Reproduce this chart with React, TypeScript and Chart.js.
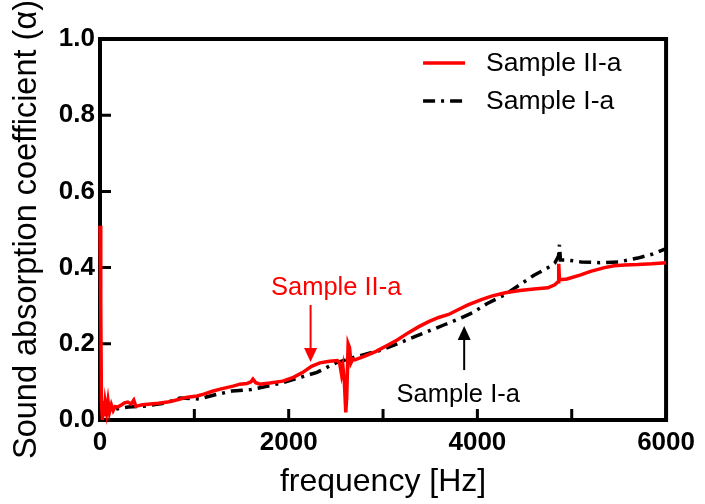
import React, { useEffect, useRef } from "react";
import { Chart, registerables } from "chart.js";
Chart.register(...registerables);

// Sample II-a (red)
const freqII = [0, 8, 15, 25, 35, 45, 55, 70, 85, 100, 120, 140, 160, 190, 230, 260, 295, 330, 358, 380, 400, 450, 537, 620, 716, 800, 926, 1030, 1100, 1200, 1274, 1410, 1484, 1558, 1600, 1621, 1650, 1695, 1800, 1937, 2050, 2150, 2242, 2330, 2432, 2516, 2540, 2560, 2575, 2590, 2605, 2615, 2630, 2645, 2660, 2680, 2700, 2800, 2926, 3063, 3150, 3274, 3380, 3484, 3589, 3695, 3800, 3900, 4042, 4150, 4295, 4450, 4600, 4747, 4820, 4855, 4862, 4870, 4950, 5095, 5200, 5347, 5450, 5558, 5700, 5850, 6000];
const absII = [0.51, 0.3, 0.05, 0.0, 0.05, 0.01, 0.045, 0.02, 0.05, 0.02, 0.04, 0.025, 0.035, 0.034, 0.04, 0.045, 0.047, 0.042, 0.052, 0.036, 0.037, 0.04, 0.042, 0.044, 0.047, 0.052, 0.06, 0.063, 0.068, 0.076, 0.081, 0.089, 0.094, 0.096, 0.1, 0.107, 0.098, 0.094, 0.097, 0.102, 0.112, 0.125, 0.141, 0.15, 0.154, 0.156, 0.15, 0.12, 0.14, 0.1, 0.02, 0.06, 0.2, 0.19, 0.15, 0.16, 0.158, 0.167, 0.18, 0.198, 0.21, 0.23, 0.245, 0.258, 0.269, 0.277, 0.29, 0.302, 0.316, 0.325, 0.334, 0.34, 0.344, 0.347, 0.355, 0.363, 0.41, 0.368, 0.37, 0.381, 0.39, 0.4, 0.405, 0.407, 0.408, 0.41, 0.413];

// Sample I-a (black dash-dot)
const freqI = [0, 50, 100, 200, 300, 500, 700, 850, 1050, 1200, 1400, 1600, 1800, 1950, 2100, 2300, 2500, 2700, 3000, 3200, 3350, 3500, 3650, 3800, 3950, 4100, 4300, 4450, 4600, 4750, 4820, 4860, 4870, 4880, 4950, 5100, 5300, 5500, 5700, 5850, 6000];
const absI = [0.01, 0.015, 0.025, 0.03, 0.034, 0.037, 0.045, 0.058, 0.055, 0.065, 0.076, 0.08, 0.09, 0.099, 0.11, 0.125, 0.15, 0.165, 0.185, 0.205, 0.22, 0.235, 0.25, 0.265, 0.282, 0.305, 0.33, 0.355, 0.38, 0.4, 0.412, 0.43, 0.46, 0.42, 0.42, 0.415, 0.413, 0.415, 0.425, 0.435, 0.45];

const seriesLabels = ["Sample II-a", "Sample I-a"];
const seriesColors = ["#ff0000", "#000000"];
const xTickLabels = ["0", "", "2000", "", "4000", "", "6000"];
const yTickLabels = ["0.0", "0.2", "0.4", "0.6", "0.8", "1.0"];
const xTitle = "frequency [Hz]";
const yTitle = "Sound absorption coefficient (α)";

// annotations: text position and arrow (data units)
const annotII = { text: "Sample II-a", tx: 2503, ty: 0.328, ax: 2232, from: 0.302, to: 0.152 };
const annotI = { text: "Sample I-a", tx: 3797, ty: 0.047, ax: 3860, from: 0.131, to: 0.247 };

const FONT = "'Liberation Sans', Arial, sans-serif";

const framePlugin = {
  id: "frame",
  beforeDatasetsDraw(chart: any) {
    const { ctx, chartArea: a, scales } = chart;
    ctx.save();
    ctx.strokeStyle = "#000";
    ctx.lineWidth = 4;
    ctx.strokeRect(a.left, a.top, a.right - a.left, a.bottom - a.top);
    ctx.lineWidth = 3;
    ctx.beginPath();
    scales.x.ticks.forEach((t: any) => {
      const px = scales.x.getPixelForValue(t.value);
      ctx.moveTo(px, a.bottom);
      ctx.lineTo(px, a.bottom - 11);
    });
    scales.y.ticks.forEach((t: any) => {
      const py = scales.y.getPixelForValue(t.value);
      ctx.moveTo(a.left, py);
      ctx.lineTo(a.left + 11, py);
    });
    ctx.stroke();
    ctx.restore();
  },
  afterDraw(chart: any) {
    const { ctx, chartArea: a, scales } = chart;
    ctx.save();
    // legend
    chart.data.datasets.forEach((ds: any, i: number) => {
      const y = a.top + 24 + i * 38;
      ctx.strokeStyle = ds.borderColor;
      ctx.lineWidth = ds.borderWidth;
      ctx.setLineDash(ds.borderDash || []);
      ctx.beginPath();
      ctx.moveTo(a.right - 243, y);
      ctx.lineTo(a.right - 201, y);
      ctx.stroke();
      ctx.setLineDash([]);
      ctx.fillStyle = "#000";
      ctx.font = `26.5px ${FONT}`;
      ctx.textAlign = "left";
      ctx.textBaseline = "middle";
      ctx.fillText(ds.label, a.right - 180, y + 1);
    });
    // annotations
    const drawAnn = (an: any, color: string) => {
      const tx = scales.x.getPixelForValue(an.tx);
      const ty = scales.y.getPixelForValue(an.ty);
      ctx.fillStyle = color;
      ctx.strokeStyle = color;
      ctx.font = `25.5px ${FONT}`;
      ctx.textAlign = "center";
      ctx.textBaseline = "alphabetic";
      ctx.fillText(an.text, tx, ty);
      const ax = scales.x.getPixelForValue(an.ax);
      const y0 = scales.y.getPixelForValue(an.from);
      const y1 = scales.y.getPixelForValue(an.to);
      const dir = y1 > y0 ? 1 : -1;
      const head = 14;
      ctx.lineWidth = 2;
      ctx.beginPath();
      ctx.moveTo(ax, y0);
      ctx.lineTo(ax, y1 - dir * head);
      ctx.stroke();
      ctx.beginPath();
      ctx.moveTo(ax, y1);
      ctx.lineTo(ax - 6.5, y1 - dir * head);
      ctx.lineTo(ax + 6.5, y1 - dir * head);
      ctx.closePath();
      ctx.fill();
    };
    drawAnn(annotII, seriesColors[0]);
    drawAnn(annotI, seriesColors[1]);
    ctx.restore();
  },
};

export default function App() {
  const ref = useRef<HTMLCanvasElement>(null);
  useEffect(() => {
    if (!ref.current) return;
    const chart = new Chart(ref.current, {
      type: "line",
      data: {
        datasets: [
          {
            label: seriesLabels[0],
            data: freqII.map((f, i) => ({ x: f, y: absII[i] })),
            borderColor: seriesColors[0],
            borderWidth: 3.5,
            pointRadius: 0,
            tension: 0,
            clip: 5,
          },
          {
            label: seriesLabels[1],
            data: freqI.map((f, i) => ({ x: f, y: absI[i] })),
            borderColor: seriesColors[1],
            borderWidth: 3.5,
            borderDash: [12, 6, 3, 6],
            pointRadius: 0,
            tension: 0,
            clip: 5,
          },
        ],
      },
      options: {
        animation: false,
        responsive: false,
        devicePixelRatio: 1,
        layout: { padding: { top: 39, right: 34.5, left: 0, bottom: 0 } },
        plugins: { legend: { display: false }, tooltip: { enabled: false } },
        scales: {
          x: {
            type: "linear",
            min: 0,
            max: 6000,
            grid: { display: false, drawTicks: false },
            border: { display: false },
            afterFit: (s: any) => { s.height = 84; },
            ticks: {
              stepSize: 1000,
              padding: 10,
              color: "#000",
              font: { family: FONT, size: 26, weight: "bold", lineHeight: 1 },
              callback: (_v: any, i: number) => xTickLabels[i],
              maxRotation: 0,
              autoSkip: false,
            },
            title: {
              display: true,
              text: xTitle,
              color: "#000",
              font: { family: FONT, size: 32, lineHeight: 1 },
              padding: { top: 0, bottom: 6 },
            },
          },
          y: {
            type: "linear",
            min: 0,
            max: 1,
            grid: { display: false, drawTicks: false },
            border: { display: false },
            afterFit: (s: any) => { s.width = 100; },
            ticks: {
              stepSize: 0.2,
              padding: 5,
              color: "#000",
              font: { family: FONT, size: 26, weight: "bold", lineHeight: 1 },
              callback: (_v: any, i: number) => yTickLabels[i],
            },
            title: {
              display: true,
              text: yTitle,
              color: "#000",
              font: { family: FONT, size: 32.5, lineHeight: 1 },
              padding: { top: 10.75, bottom: 0 },
            },
          },
        },
      },
      plugins: [framePlugin],
    } as any);
    return () => chart.destroy();
  }, []);
  return (
    <div style={{ position: "fixed", left: 0, top: 0, width: 705, height: 504, background: "#fff" }}>
      <canvas ref={ref} width={705} height={504} style={{ display: "block" }} />
    </div>
  );
}
